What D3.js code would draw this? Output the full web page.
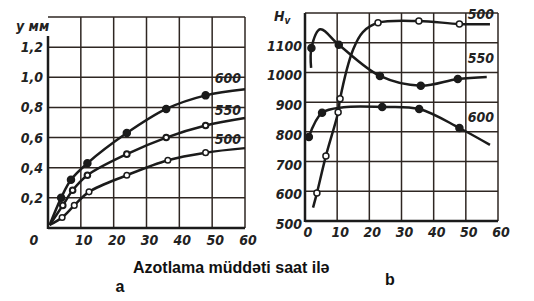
<!DOCTYPE html>
<html>
<head>
<meta charset="utf-8">
<script src="https://cdn.jsdelivr.net/npm/d3@7"></script>
<style>
  body { margin: 0; background: #fff; }
  .tick-lbl { font-family: "DejaVu Sans Condensed", "DejaVu Sans", sans-serif; font-stretch: condensed;
    font-style: italic; font-weight: bold; font-size: 14px; fill: #222; }
  .cap { font-family: "Liberation Sans", Arial, sans-serif; font-weight: bold; fill: #111; }
</style>
</head>
<body>
<svg id="chart" width="534" height="301"></svg>
<script>
// panel a: depth of nitrided layer (mm) vs time (h), per temperature
// each point: [hours, value, hasMarker]
const a600 = [[0.5, 0.02, 0], [4, 0.2, 1], [7, 0.32, 1], [12, 0.43, 1], [24, 0.63, 1], [36, 0.79, 1], [48, 0.88, 1], [60, 0.92, 0]];
const a550 = [[0.5, 0.02, 0], [4.5, 0.15, 1], [7.5, 0.25, 1], [12, 0.35, 1], [24, 0.49, 1], [36, 0.6, 1], [48, 0.68, 1], [60, 0.73, 0]];
const a500 = [[0.5, 0.02, 0], [4.3, 0.07, 1], [8, 0.15, 1], [12.5, 0.24, 1], [24, 0.35, 1], [36.5, 0.45, 1], [48, 0.5, 1], [60, 0.53, 0]];

// panel b: hardness Hv vs time (h)
const b500 = [[2.5, 545, 0], [3.7, 594, 1], [6.5, 719, 1], [10.3, 866, 1], [10.9, 911, 1], [15, 1078, 0], [18, 1136, 0], [22.7, 1167, 1], [35.4, 1173, 1], [48, 1163, 1], [57.5, 1162, 0]];
const b550 = [[1.9, 1015, 0], [2, 1082, 1], [4.7, 1145, 0], [10.5, 1093, 1], [23.3, 988, 1], [36, 955, 1], [47.5, 978, 1], [56.5, 985, 0]];
const b600 = [[1.2, 783, 1], [5.3, 864, 1], [12, 883, 0], [24, 884, 1], [35.5, 877, 1], [48, 813, 1], [57.5, 756, 0]];

const hourTicks = [0, 10, 20, 30, 40, 50, 60];
const depthTicks = [0.2, 0.4, 0.6, 0.8, 1.0, 1.2, 1.4];
const hvTicks = [500, 600, 700, 800, 900, 1000, 1100, 1200];
const tempLabels = ["600", "550", "500"];
const xTitle = "Azotlama müddəti saat ilə";

const svg = d3.select("#chart");
const gridColor = "#2e2622";
const lineColor = "#1b1b1b";

// ---------- panel a ----------
const xa = d3.scaleLinear().domain([0, 60]).range([48, 245]);
const ya = d3.scaleLinear().domain([0, 1.4]).range([228, 17]);
const ga = svg.append("g");

// grid
ga.selectAll(".hg").data(depthTicks).join("line")
  .attr("x1", xa(0)).attr("x2", xa(60))
  .attr("y1", d => ya(d)).attr("y2", d => ya(d))
  .attr("stroke", gridColor).attr("stroke-width", 1.5);
ga.selectAll(".vg").data(hourTicks.slice(1)).join("line")
  .attr("x1", d => xa(d)).attr("x2", d => xa(d))
  .attr("y1", ya(1.4)).attr("y2", ya(0))
  .attr("stroke", gridColor).attr("stroke-width", 1.5);
// axes
ga.append("line").attr("x1", xa(0)).attr("x2", xa(0)).attr("y1", 36).attr("y2", ya(0) + 1)
  .attr("stroke", lineColor).attr("stroke-width", 2.5);
ga.append("line").attr("x1", xa(0)).attr("x2", xa(60)).attr("y1", ya(0)).attr("y2", ya(0))
  .attr("stroke", lineColor).attr("stroke-width", 2.5);

// tick labels
ga.selectAll(".yl").data(depthTicks.slice(0, 6)).join("text")
  .attr("class", "tick-lbl")
  .attr("x", 43).attr("y", d => ya(d)).attr("dy", "0.36em")
  .attr("text-anchor", "end")
  .text(d => d3.format(".1f")(d).replace(".", ","));
ga.selectAll(".xl").data(hourTicks).join("text")
  .attr("class", "tick-lbl")
  .attr("x", d => d === 0 ? 34 : xa(d) + 3).attr("y", 245)
  .attr("text-anchor", "middle")
  .text(d => d);
ga.append("text").attr("class", "tick-lbl").attr("x", 16).attr("y", 31).text("y мм");

const lineA = d3.line().x(d => xa(d[0])).y(d => ya(d[1])).curve(d3.curveCatmullRom.alpha(0.5));
[[a600, "filled"], [a550, "thick"], [a500, "open"]].forEach(([s, mk]) => {
  ga.append("path").datum(s).attr("d", lineA)
    .attr("fill", "none").attr("stroke", lineColor).attr("stroke-width", 2.5);
  ga.selectAll(null).data(s.filter(d => d[2])).join("circle")
    .attr("cx", d => xa(d[0])).attr("cy", d => ya(d[1]))
    .attr("r", mk === "filled" ? 3.5 : 2.8)
    .attr("fill", mk === "filled" ? lineColor : "#fff")
    .attr("stroke", lineColor).attr("stroke-width", mk === "thick" ? 2 : 1.5);
});
// curve labels
const aLabelY = [78, 110, 139];
ga.selectAll(".cl").data(tempLabels).join("text")
  .attr("class", "tick-lbl")
  .attr("x", 228).attr("y", (d, i) => aLabelY[i]).attr("dy", "0.36em")
  .attr("text-anchor", "middle")
  .text(d => d);

// ---------- panel b ----------
const xb = d3.scaleLinear().domain([0, 60]).range([305, 498]);
const yb = d3.scaleLinear().domain([500, 1200]).range([221, 13]);
const gb = svg.append("g");

gb.selectAll(".hg").data(hvTicks).join("line")
  .attr("x1", xb(0)).attr("x2", xb(60))
  .attr("y1", d => yb(d)).attr("y2", d => yb(d))
  .attr("stroke", gridColor).attr("stroke-width", 1.5);
gb.selectAll(".vg").data(hourTicks.slice(1)).join("line")
  .attr("x1", d => xb(d)).attr("x2", d => xb(d))
  .attr("y1", yb(1200)).attr("y2", yb(500))
  .attr("stroke", gridColor).attr("stroke-width", 1.5);
gb.append("line").attr("x1", xb(0)).attr("x2", xb(0)).attr("y1", yb(1200)).attr("y2", yb(500) + 1)
  .attr("stroke", lineColor).attr("stroke-width", 2.5);
gb.append("line").attr("x1", xb(0)).attr("x2", xb(60)).attr("y1", yb(500)).attr("y2", yb(500))
  .attr("stroke", lineColor).attr("stroke-width", 2.5);

gb.selectAll(".yl").data(hvTicks.slice(0, 7)).join("text")
  .attr("class", "tick-lbl")
  .attr("x", 302).attr("y", d => yb(d) + 3).attr("dy", "0.36em")
  .attr("text-anchor", "end")
  .text(d => d);
gb.selectAll(".xl").data(hourTicks).join("text")
  .attr("class", "tick-lbl")
  .attr("x", d => xb(d) + 3).attr("y", 237)
  .attr("text-anchor", "middle")
  .text(d => d);
const hv = gb.append("text").attr("class", "tick-lbl").attr("x", 274).attr("y", 21);
hv.append("tspan").text("H");
hv.append("tspan").attr("dy", 3).attr("font-size", 10).text("v");

const lineB = d3.line().x(d => xb(d[0])).y(d => yb(d[1])).curve(d3.curveCatmullRom.alpha(0.5));
[[b500, "open"], [b550, "filled"], [b600, "filled"]].forEach(([s, mk]) => {
  gb.append("path").datum(s).attr("d", lineB)
    .attr("fill", "none").attr("stroke", lineColor).attr("stroke-width", 2.5);
  gb.selectAll(null).data(s.filter(d => d[2])).join("circle")
    .attr("cx", d => xb(d[0])).attr("cy", d => yb(d[1]))
    .attr("r", mk === "filled" ? 3.5 : 3)
    .attr("fill", mk === "filled" ? lineColor : "#fff")
    .attr("stroke", lineColor).attr("stroke-width", 1.5);
});
const bLabelY = [117, 58, 14];
gb.selectAll(".cl").data(tempLabels).join("text")
  .attr("class", "tick-lbl")
  .attr("x", 481).attr("y", (d, i) => bLabelY[i]).attr("dy", "0.36em")
  .attr("text-anchor", "middle")
  .text(d => d);

// ---------- captions ----------
svg.append("text").attr("class", "cap").attr("x", 133).attr("y", 273)
  .attr("font-size", 16).text(xTitle);
svg.append("text").attr("class", "cap").attr("x", 120).attr("y", 292)
  .attr("text-anchor", "middle").attr("font-size", 16).text("a");
svg.append("text").attr("class", "cap").attr("x", 390).attr("y", 285)
  .attr("text-anchor", "middle").attr("font-size", 16).text("b");
</script>
</body>
</html>
